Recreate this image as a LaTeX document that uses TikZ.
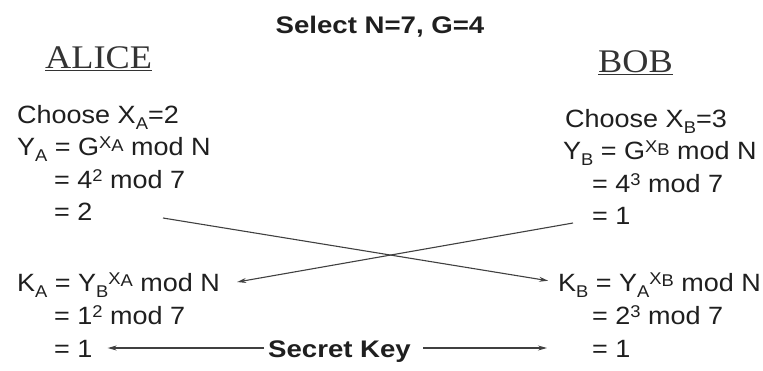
\documentclass[tikz,border=0pt]{standalone}
\usepackage{fontspec}
\setmainfont[FakeStretch=1.08]{Liberation Sans}
\newfontfamily\keyfont[FakeStretch=1.15]{Liberation Sans}
\newfontfamily\namefont[FakeStretch=1.1]{Liberation Serif}
\usetikzlibrary{arrows.meta, positioning}

% small raised / lowered letters
\newcommand{\supx}[1]{\raisebox{7pt}{\fontsize{17}{17}\selectfont #1}}
\newcommand{\subx}[1]{\raisebox{-6pt}{\fontsize{17}{17}\selectfont #1}}
\newcommand{\xpow}[1]{\supx{X\raisebox{-2.5pt}{#1}}}

\begin{document}
\begin{tikzpicture}[x=1pt, y=-1pt, >={Stealth[length=9pt, width=5pt]},
        row/.style={anchor=base west, inner sep=2pt, text height=20pt, text depth=2pt,
                    font=\fontsize{25}{30}\selectfont, text=black!88},
        keytext/.style={anchor=base west, inner sep=2pt, text height=20pt, text depth=2pt,
                    font=\keyfont\bfseries\fontsize{24}{28}\selectfont, text=black!88},
        person/.style={anchor=base west, inner sep=0pt,
                    font=\namefont\fontsize{33}{38}\selectfont, text=black!80},
        link/.style={->, line width=1.1pt, draw=black!75}]
    \useasboundingbox (0,0) rectangle (763,370);

      % Header
      \node[keytext, anchor=base] (select) at (380,33) {Select N=7, G=4};
      \node[person] (alice) at (45,68) {\underline{ALICE}};
      \node[person] (bob) at (598,72) {\underline{BOB}};

      % Alice
      \node[row] (a1) at (15,123) {Choose X\subx{A}=2};
      \node[row] (a2) at (15,155.5) {Y\subx{A} = G\xpow{A} mod N};
      \node[row] (a3) at (52,188) {= 4\supx{2} mod 7};
      \node[row] (a4) at (52,220.5) {= 2};
      \node[row] (ka) at (15,291) {K\subx{A} = Y\subx{B}\xpow{A} mod N};
      \node[row] (a6) at (52,324) {= 1\supx{2} mod 7};
      \node[row] (a7) at (52,357) {= 1};

      % Bob
      \node[row] (b1) at (563,127) {Choose X\subx{B}=3};
      \node[row] (b2) at (561,159.5) {Y\subx{B} = G\xpow{B} mod N};
      \node[row] (b3) at (590,192) {= 4\supx{3} mod 7};
      \node[row] (b4) at (590,224.5) {= 1};
      \node[row] (kb) at (556,291) {K\subx{B} = Y\subx{A}\xpow{B} mod N};
      \node[row] (b6) at (590,324) {= 2\supx{3} mod 7};
      \node[row] (b7) at (590,357) {= 1};

      % Exchange
      \coordinate (yaOut) at (163,218);
      \coordinate (ybOut) at (573,223);
      \draw[link, shorten >=8pt] (yaOut) -- (kb.west);
      \draw[link] (ybOut) -- ([xshift=15pt]ka.east);

      % Secret key
      \node[keytext] (key) at (266,357) {Secret Key};
      \draw[link, shorten <=2pt, shorten >=13pt] (key.west) -- (a7.east);
      \draw[link, shorten <=10pt, shorten >=43pt] (key.east) -- (b7.west);
    \end{tikzpicture}
\end{document}
